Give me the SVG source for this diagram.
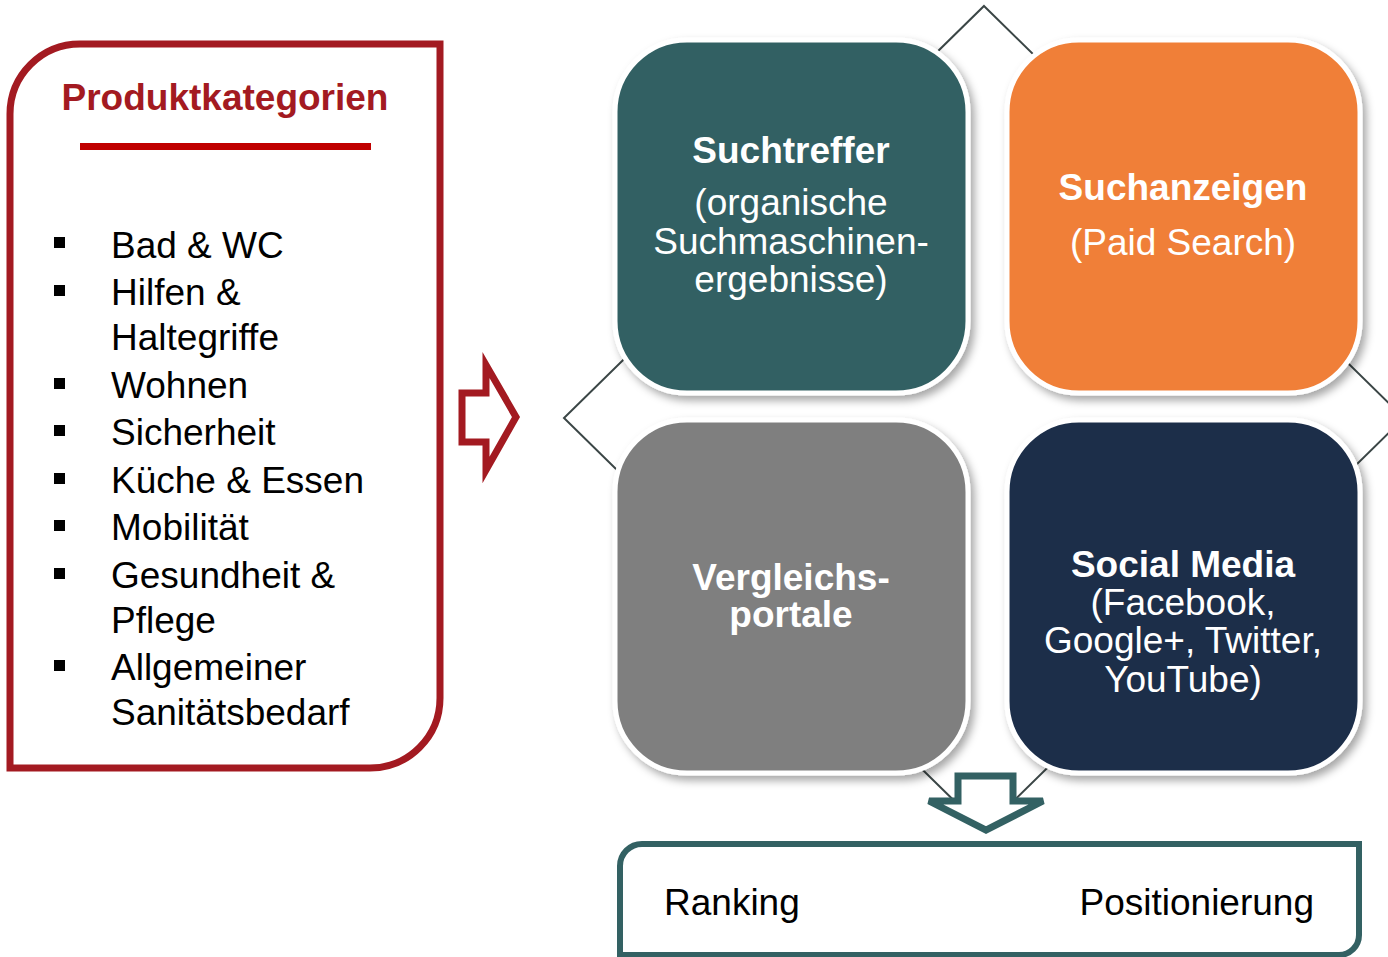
<svg xmlns="http://www.w3.org/2000/svg" width="1388" height="957" viewBox="0 0 1388 957">
<defs>
<style>
text{font-family:"Liberation Sans",Arial,sans-serif;font-size:37px}
.b{font-weight:bold}
.w{fill:#fff;text-anchor:middle}
.k{fill:#000}
.tile{stroke:#fff;stroke-width:5}
.conn{fill:none;stroke:#3b4646;stroke-width:2}
</style>
<filter id="sh" x="-10%" y="-10%" width="130%" height="130%">
<feDropShadow dx="4" dy="5" stdDeviation="4" flood-color="#000" flood-opacity="0.35"/>
</filter>
</defs>
<rect width="1388" height="957" fill="#fff"/>

<g id="connectors">
<polygon class="conn" points="984,6 1404,418 984,830 564,418"/>
</g>

<g id="produktkategorien">
<path d="M10,768 L10,114 A70,70 0 0 1 80,44 L440,44 L440,698 A70,70 0 0 1 370,768 Z" fill="#fff" stroke="#A31A21" stroke-width="7"/>
<text x="225" y="110" class="b" fill="#A31A21" text-anchor="middle">Produktkategorien</text>
<rect x="80" y="143" width="291" height="7" fill="#C00000"/>
<g fill="#000">
<rect x="54" y="237" width="11" height="11"/>
<rect x="54" y="285" width="11" height="11"/>
<rect x="54" y="378" width="11" height="11"/>
<rect x="54" y="425" width="11" height="11"/>
<rect x="54" y="473" width="11" height="11"/>
<rect x="54" y="520" width="11" height="11"/>
<rect x="54" y="568" width="11" height="11"/>
<rect x="54" y="660" width="11" height="11"/>
</g>
<text class="k" x="111" y="258">Bad &amp; WC</text>
<text class="k" x="111" y="305">Hilfen &amp;</text>
<text class="k" x="111" y="350">Haltegriffe</text>
<text class="k" x="111" y="398">Wohnen</text>
<text class="k" x="111" y="445">Sicherheit</text>
<text class="k" x="111" y="493">Küche &amp; Essen</text>
<text class="k" x="111" y="540">Mobilität</text>
<text class="k" x="111" y="588">Gesundheit &amp;</text>
<text class="k" x="111" y="633">Pflege</text>
<text class="k" x="111" y="680">Allgemeiner</text>
<text class="k" x="111" y="725">Sanitätsbedarf</text>
</g>

<g id="arrow-right">
<polygon points="462,393 486,393 486,365 516,417 486,470 486,442 462,442" fill="#fff" stroke="#A31A21" stroke-width="7" stroke-linejoin="miter"/>
</g>

<g id="suchtreffer">
<rect class="tile" x="615" y="40" width="353" height="353" rx="72" fill="#336163" filter="url(#sh)"/>
<text class="w b" x="791" y="163">Suchtreffer</text>
<text class="w" x="791" y="215">(organische</text>
<text class="w" x="791" y="254">Suchmaschinen-</text>
<text class="w" x="791" y="292">ergebnisse)</text>
</g>

<g id="suchanzeigen">
<rect class="tile" x="1007" y="40" width="353" height="353" rx="72" fill="#F07F37" filter="url(#sh)"/>
<text class="w b" x="1183" y="200">Suchanzeigen</text>
<text class="w" x="1183" y="255">(Paid Search)</text>
</g>

<g id="vergleichsportale">
<rect class="tile" x="615" y="420" width="353" height="353" rx="72" fill="#7F7F7F" filter="url(#sh)"/>
<text class="w b" x="791" y="590">Vergleichs-</text>
<text class="w b" x="791" y="627">portale</text>
</g>

<g id="socialmedia">
<rect class="tile" x="1007" y="420" width="353" height="353" rx="72" fill="#1C2E4A" filter="url(#sh)"/>
<text class="w b" x="1183" y="577">Social Media</text>
<text class="w" x="1183" y="615">(Facebook,</text>
<text class="w" x="1183" y="653">Google+, Twitter,</text>
<text class="w" x="1183" y="692">YouTube)</text>
</g>

<g id="arrow-down">
<polygon points="958,776 1013,776 1013,801 1043,801 986,830 929,801 958,801" fill="#fff" stroke="#336163" stroke-width="7" stroke-linejoin="miter"/>
</g>

<g id="ranking">
<path d="M620,960 L620,866 A22,22 0 0 1 642,844 L1359,844 L1359,935 A20,20 0 0 1 1339,955 L620,955" fill="#fff" stroke="#336163" stroke-width="6"/>
<text class="k" x="664" y="915">Ranking</text>
<text class="k" x="1314" y="915" text-anchor="end">Positionierung</text>
</g>
</svg>
